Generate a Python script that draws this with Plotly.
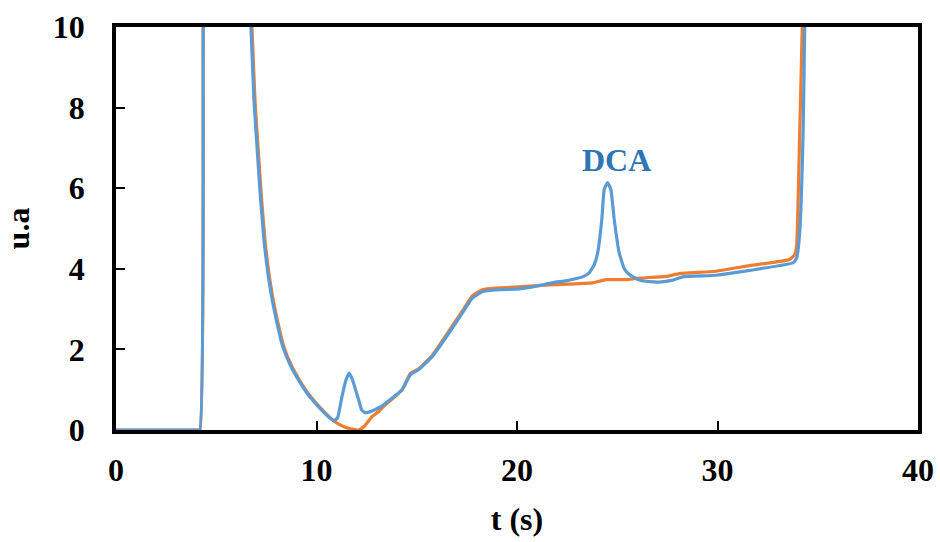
import plotly.graph_objects as go

# Blue series (with DCA)
blue_t = [0, 4.0, 4.18, 4.35, 4.43, 6.35, 6.73, 6.88, 7.05, 7.2, 7.4, 7.6, 7.8, 8.0, 8.3, 8.7, 9.1,
          9.5, 9.93, 10.4, 10.85, 11.05, 11.27, 11.47, 11.63, 11.8, 12.1, 12.25, 12.43, 12.8,
          13.27, 14.27, 14.68, 15.1, 15.77, 16.6, 17.27, 17.77, 18.27, 19.1, 20.1, 20.77, 21.93,
          22.43, 23.27, 23.6, 23.85, 24.02, 24.23, 24.35, 24.52, 24.68, 24.85, 25.1, 25.35, 25.6,
          26.1, 26.6, 27.1, 27.77, 28.27, 29.93, 31.6, 33.77, 33.95, 34.1, 34.27, 34.35, 34.45]
blue_v = [0, 0, 0, 10, 15, 14, 10, 8.2, 6.9, 5.8, 4.6, 3.8, 3.2, 2.72, 2.1, 1.6, 1.24,
          0.93, 0.67, 0.42, 0.23, 0.3, 0.83, 1.24, 1.41, 1.24, 0.75, 0.5, 0.43, 0.48,
          0.6, 1.0, 1.37, 1.5, 1.82, 2.4, 2.9, 3.27, 3.43, 3.48, 3.5, 3.55, 3.67,
          3.7, 3.8, 3.9, 4.1, 4.39, 5.22, 5.97, 6.14, 5.97, 5.22, 4.39, 4.0, 3.86,
          3.72, 3.68, 3.67, 3.72, 3.8, 3.84, 3.96, 4.15, 4.27, 4.9, 7.39, 10.07, 15]

# Orange series (reference)
orange_t = [0, 4.0, 4.18, 4.35, 4.43, 6.4, 6.78, 6.93, 7.1, 7.25, 7.45, 7.65, 7.85, 8.05, 8.35,
            8.75, 9.15, 9.55, 9.98, 10.45, 10.85, 11.2, 11.6, 12.1, 12.4, 12.77, 13.1, 13.27,
            14.27, 14.68, 15.1, 15.77, 16.6, 17.27, 17.77, 18.27, 19.1, 20.1, 21.6, 23.77, 24.1,
            24.43, 25.43, 26.1, 27.43, 28.1, 29.93, 31.6, 33.6, 33.85, 33.95, 34.1, 34.23, 34.3]
orange_v = [0, 0, 0, 10, 15, 14, 10, 8.2, 6.9, 5.8, 4.6, 3.8, 3.2, 2.72, 2.1,
            1.6, 1.24, 0.93, 0.67, 0.42, 0.23, 0.12, 0.04, 0.0, 0.1, 0.33, 0.46, 0.55,
            1.0, 1.4, 1.52, 1.85, 2.45, 2.95, 3.33, 3.48, 3.53, 3.55, 3.6, 3.65, 3.69,
            3.73, 3.73, 3.77, 3.81, 3.88, 3.94, 4.08, 4.23, 4.35, 4.6, 7.4, 10.07, 15]

x_ticks = [0, 10, 20, 30, 40]
y_ticks = [0, 2, 4, 6, 8, 10]

FONT = "Liberation Serif"

fig = go.Figure()
fig.add_trace(go.Scatter(x=orange_t, y=orange_v, mode="lines",
                         line=dict(color="#ED7D31", width=3.2, shape="spline", smoothing=0.4),
                         showlegend=False, hoverinfo="skip"))
fig.add_trace(go.Scatter(x=blue_t, y=blue_v, mode="lines",
                         line=dict(color="#5B9BD5", width=3.2, shape="spline", smoothing=0.4),
                         showlegend=False, hoverinfo="skip"))

fig.add_annotation(x=24.95, y=6.7, text="<b>DCA</b>", showarrow=False,
                   font=dict(family=FONT, size=32, color="#2E75B6"))

axis_common = dict(showgrid=False, zeroline=False, showline=True, linecolor="black",
                   linewidth=3.5, mirror=True, ticks="inside", ticklen=9, tickwidth=2,
                   tickcolor="black",
                   tickfont=dict(family=FONT, size=32, color="black", weight="bold"))

fig.update_xaxes(range=[0, 40], tickvals=x_ticks, ticktext=[str(v) for v in x_ticks],
                 ticklabelstandoff=9,
                 title=dict(text="<b>t (s)</b>", font=dict(family=FONT, size=32, color="black"),
                            standoff=21),
                 **axis_common)
fig.update_yaxes(range=[0, 10], tickvals=y_ticks, ticktext=[str(v) for v in y_ticks],
                 ticklabelstandoff=21,
                 title=dict(text="<b>u.a</b>", font=dict(family=FONT, size=32, color="black"),
                            standoff=15),
                 **axis_common)

fig.update_layout(width=940, height=542, plot_bgcolor="white", paper_bgcolor="white",
                  margin=dict(l=116, r=22, t=27, b=112, autoexpand=False))

fig.write_html("out.html", config={"displayModeBar": False},
               post_script="document.body.style.margin='0';")
